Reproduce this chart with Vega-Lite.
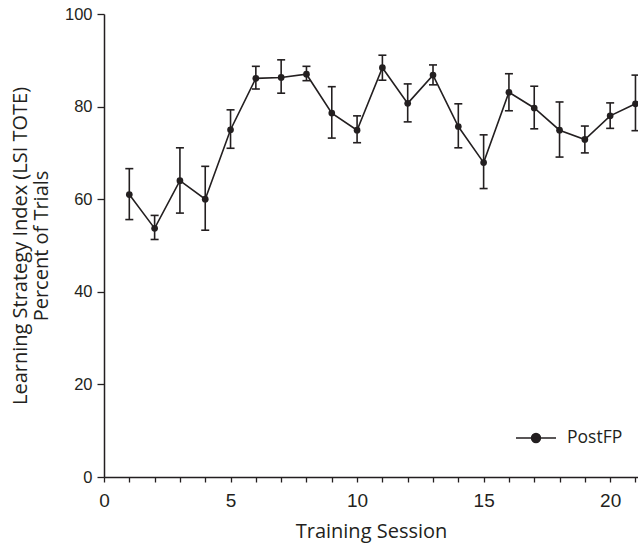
{
  "$schema": "https://vega.github.io/schema/vega-lite/v6.json",
  "width": 534,
  "height": 463,
  "autosize": {"type": "none"},
  "padding": {"left": 104, "top": 14, "right": 0, "bottom": 66},
  "background": "white",
  "config": {
    "view": {"stroke": null},
    "axis": {
      "grid": false,
      "domainColor": "#231f20",
      "domainWidth": 1.5,
      "tickColor": "#231f20",
      "tickWidth": 1.3,
      "labelColor": "#231f20",
      "titleColor": "#231f20"
    }
  },
  "data": {
    "values": [
      {"session": 1, "pct": 61.0, "lo": 55.6, "hi": 66.6, "group": "PostFP"},
      {"session": 2, "pct": 53.7, "lo": 51.3, "hi": 56.5, "group": "PostFP"},
      {"session": 3, "pct": 64.0, "lo": 57.0, "hi": 71.1, "group": "PostFP"},
      {"session": 4, "pct": 60.0, "lo": 53.3, "hi": 67.1, "group": "PostFP"},
      {"session": 5, "pct": 75.0, "lo": 71.0, "hi": 79.3, "group": "PostFP"},
      {"session": 6, "pct": 86.1, "lo": 83.8, "hi": 88.7, "group": "PostFP"},
      {"session": 7, "pct": 86.3, "lo": 82.9, "hi": 90.1, "group": "PostFP"},
      {"session": 8, "pct": 87.0, "lo": 85.6, "hi": 88.7, "group": "PostFP"},
      {"session": 9, "pct": 78.6, "lo": 73.2, "hi": 84.3, "group": "PostFP"},
      {"session": 10, "pct": 74.9, "lo": 72.2, "hi": 78.0, "group": "PostFP"},
      {"session": 11, "pct": 88.4, "lo": 85.7, "hi": 91.1, "group": "PostFP"},
      {"session": 12, "pct": 80.7, "lo": 76.7, "hi": 84.9, "group": "PostFP"},
      {"session": 13, "pct": 86.8, "lo": 84.7, "hi": 89.0, "group": "PostFP"},
      {"session": 14, "pct": 75.7, "lo": 71.1, "hi": 80.6, "group": "PostFP"},
      {"session": 15, "pct": 67.9, "lo": 62.3, "hi": 73.9, "group": "PostFP"},
      {"session": 16, "pct": 83.1, "lo": 79.1, "hi": 87.1, "group": "PostFP"},
      {"session": 17, "pct": 79.7, "lo": 75.2, "hi": 84.4, "group": "PostFP"},
      {"session": 18, "pct": 74.9, "lo": 69.1, "hi": 81.0, "group": "PostFP"},
      {"session": 19, "pct": 72.9, "lo": 70.0, "hi": 75.8, "group": "PostFP"},
      {"session": 20, "pct": 78.0, "lo": 75.3, "hi": 80.8, "group": "PostFP"},
      {"session": 21, "pct": 80.6, "lo": 74.8, "hi": 86.8, "group": "PostFP"}
    ]
  },
  "encoding": {
    "x": {
      "field": "session",
      "type": "quantitative",
      "scale": {"domain": [0, 21.1], "nice": false, "zero": false},
      "axis": {
        "title": "Training Session",
        "values": [0, 1, 2, 3, 4, 5, 6, 7, 8, 9, 10, 11, 12, 13, 14, 15, 16, 17, 18, 19, 20, 21],
        "labelExpr": "datum.value % 5 === 0 ? datum.label : ''",
        "labelOverlap": false,
        "labelFlush": false,
        "tickSize": 5,
        "labelPadding": 9,
        "labelFont": "Liberation Sans",
        "labelFontSize": 19,
        "titleFont": "Open Sans",
        "titleFontSize": 20,
        "titleFontWeight": "normal",
        "titlePadding": 11
      }
    }
  },
  "layer": [
    {
      "mark": {"type": "rule", "color": "#231f20", "strokeWidth": 1.6},
      "encoding": {
        "y": {
          "field": "lo",
          "type": "quantitative",
          "scale": {"domain": [0, 100], "nice": false},
          "axis": {
            "title": ["Learning Strategy Index (LSI TOTE)", "Percent of Trials"],
            "values": [0, 20, 40, 60, 80, 100],
            "tickSize": 7,
            "labelPadding": 5,
            "labelFont": "Liberation Sans",
            "labelFontSize": 16.5,
            "titleFont": "Open Sans",
            "titleFontSize": 20,
            "titleFontWeight": "normal",
            "titlePadding": 13,
            "titleLineHeight": 21
          }
        },
        "y2": {"field": "hi"}
      }
    },
    {
      "mark": {"type": "tick", "orient": "horizontal", "size": 8, "thickness": 1.6, "color": "#231f20", "opacity": 1},
      "encoding": {
        "y": {"field": "lo", "type": "quantitative", "title": ["Learning Strategy Index (LSI TOTE)", "Percent of Trials"]}
      }
    },
    {
      "mark": {"type": "tick", "orient": "horizontal", "size": 8, "thickness": 1.6, "color": "#231f20", "opacity": 1},
      "encoding": {
        "y": {"field": "hi", "type": "quantitative", "title": ["Learning Strategy Index (LSI TOTE)", "Percent of Trials"]}
      }
    },
    {
      "mark": {"type": "line", "strokeWidth": 1.6},
      "encoding": {
        "y": {"field": "pct", "type": "quantitative", "title": ["Learning Strategy Index (LSI TOTE)", "Percent of Trials"]},
        "color": {
          "field": "group",
          "type": "nominal",
          "scale": {"range": ["#231f20"]},
          "legend": {
            "title": null,
            "orient": "none",
            "legendX": 411,
            "legendY": 403,
            "padding": 0,
            "symbolType": "M-1,0L1,0M0.22,0A0.22,0.22,0,1,1,-0.22,0A0.22,0.22,0,1,1,0.22,0Z",
            "symbolSize": 1600,
            "symbolStrokeWidth": 1.6,
            "labelFont": "Open Sans",
            "labelFontSize": 17.5,
            "labelColor": "#231f20",
            "labelOffset": 10,
            "encode": {"symbols": {"update": {"fill": {"value": "#231f20"}, "stroke": {"value": "#231f20"}, "strokeWidth": {"value": 1.6}, "opacity": {"value": 1}}}}
          }
        }
      }
    },
    {
      "mark": {"type": "point", "filled": true, "size": 45, "opacity": 1, "shape": "circle"},
      "encoding": {
        "y": {"field": "pct", "type": "quantitative", "title": ["Learning Strategy Index (LSI TOTE)", "Percent of Trials"]},
        "color": {"field": "group", "type": "nominal"}
      }
    }
  ]
}
